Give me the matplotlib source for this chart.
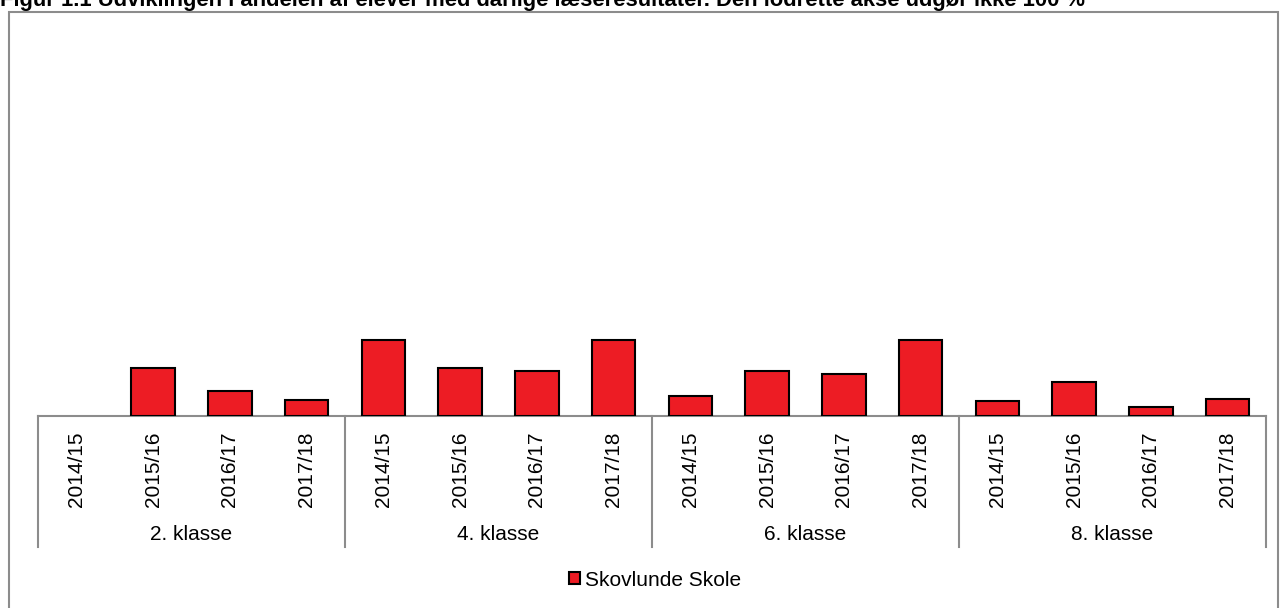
import numpy as np
import matplotlib.pyplot as plt
from matplotlib.patches import Rectangle
from matplotlib.lines import Line2D

plt.rcParams['font.family'] = ['Liberation Sans', 'DejaVu Sans']

# data (share of pupils, %)
groups = ['2. klasse', '4. klasse', '6. klasse', '8. klasse']
years = ['2014/15', '2015/16', '2016/17', '2017/18']
skovlunde = [np.nan, 6.2, 3.2, 2.1,
             9.8, 6.2, 5.8, 9.8,
             2.6, 5.8, 5.4, 9.8,
             1.9, 4.4, 1.2, 2.2]
title = ('Figur 1.1 Udviklingen i andelen af elever med dårlige læseresultater. '
         'Den lodrette akse udgør ikke 100 %')

W, H = 1282, 608
fig = plt.figure(figsize=(W / 100, H / 100), dpi=100)

# outer frame (bottom edge runs off the picture)
fig.patches.append(Rectangle((9 / W, -0.05), 1269 / W, 1.05 - 12 / H, transform=fig.transFigure,
                             fill=False, edgecolor='#8c8c8c', linewidth=1.5))
fig.text(0 / W, 1 - 6 / H, title, fontsize=15.8, fontweight='bold', va='baseline', ha='left')

ax_top, ax_bot = 30, 416
ax = fig.add_axes([38 / W, 1 - ax_bot / H, (1266 - 38) / W, (ax_bot - ax_top) / H])
n = len(skovlunde)
x = np.arange(n)
ax.bar(x, skovlunde, width=0.57, color='#ed1c24', edgecolor='black', linewidth=1.5,
       zorder=3, label='Skovlunde Skole')
ax.set_xlim(-0.5, n - 0.5)
ax.set_ylim(0, 50)
for s in ax.spines.values():
    s.set_visible(False)
ax.set_xticks([])
ax.set_yticks([])
ax.axhline(0, color='#8c8c8c', linewidth=1.5, zorder=2, clip_on=False)

h = ax_bot - ax_top
tr = ax.get_xaxis_transform()
for i in range(n):
    ax.text(x[i], -53 / h, years[i % 4], rotation=90, ha='center', va='center',
            fontsize=15, transform=tr)
for g, name in enumerate(groups):
    ax.text(g * 4 + 1.5, -118 / h, name, ha='center', va='center', fontsize=15, transform=tr)
for b in range(len(groups) + 1):
    ax.add_line(Line2D([b * 4 - 0.5, b * 4 - 0.5], [0, -131 / h], transform=tr,
                       color='#8c8c8c', linewidth=1.5, clip_on=False))

leg = fig.legend(loc='center', bbox_to_anchor=(655 / W, 1 - 580 / H), frameon=False,
                 fontsize=15, handlelength=0.55, handleheight=0.55, handletextpad=0.25)

fig.savefig('out.png', dpi=100)
